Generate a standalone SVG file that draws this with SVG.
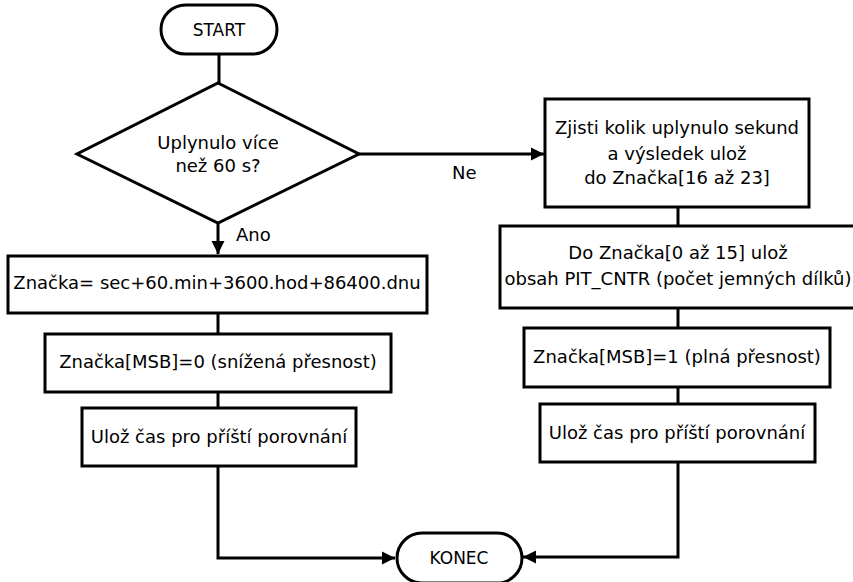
<svg xmlns="http://www.w3.org/2000/svg" width="853" height="582" viewBox="0 0 853 582">
<style>
.s{fill:#fff;stroke:#000;stroke-width:3}
.c{fill:none;stroke:#000;stroke-width:3}
text{font-family:"DejaVu Sans",sans-serif;font-size:18px;fill:#000;text-anchor:middle}
.t{font-size:17px}
.l{text-anchor:start}
</style>
<defs>
<marker id="a" markerWidth="14" markerHeight="14" refX="13" refY="7" orient="auto" markerUnits="userSpaceOnUse">
<path d="M0,0.5 L13,7 L0,13.5 Z" fill="#000"/>
</marker>
</defs>
<g id="connectors">
<path class="c" d="M219,54 V83"/>
<path class="c" d="M218,223 V254" marker-end="url(#a)"/>
<path class="c" d="M359,154 H544" marker-end="url(#a)"/>
<path class="c" d="M218,313 V334"/>
<path class="c" d="M218,392 V408"/>
<path class="c" d="M218,466 V558 H395" marker-end="url(#a)"/>
<path class="c" d="M678,207 V226"/>
<path class="c" d="M678,308 V328"/>
<path class="c" d="M678,387 V404"/>
<path class="c" d="M678,462 V557 H523" marker-end="url(#a)"/>
<text class="l" x="236" y="241">Ano</text>
<text class="l" x="452" y="179">Ne</text>
</g>
<g id="start">
<rect class="s" x="161" y="5" width="116" height="49" rx="24.5"/>
<text class="t" x="219" y="36">START</text>
</g>
<g id="decision">
<path class="s" d="M218,83 L359,154 L218,223 L77,154 Z"/>
<text x="218" y="149">Uplynulo více</text>
<text x="218" y="172">než 60 s?</text>
</g>
<g id="box1">
<rect class="s" x="8" y="256" width="419" height="57"/>
<text x="217" y="289">Značka= sec+60.min+3600.hod+86400.dnu</text>
</g>
<g id="box2">
<rect class="s" x="45" y="334" width="346" height="58"/>
<text x="218" y="368">Značka[MSB]=0 (snížená přesnost)</text>
</g>
<g id="box3">
<rect class="s" x="82" y="408" width="274" height="58"/>
<text x="219" y="443">Ulož čas pro příští porovnání</text>
</g>
<g id="boxR1">
<rect class="s" x="545" y="99" width="264" height="108"/>
<text x="677" y="134">Zjisti kolik uplynulo sekund</text>
<text x="677" y="160">a výsledek ulož</text>
<text x="677" y="184">do Značka[16 až 23]</text>
</g>
<g id="boxR2">
<rect class="s" x="500" y="226" width="370" height="82"/>
<text x="678" y="259">Do Značka[0 až 15] ulož</text>
<text x="678" y="285">obsah PIT_CNTR (počet jemných dílků)</text>
</g>
<g id="boxR3">
<rect class="s" x="524" y="328" width="306" height="59"/>
<text x="677" y="363">Značka[MSB]=1 (plná přesnost)</text>
</g>
<g id="boxR4">
<rect class="s" x="540" y="404" width="275" height="58"/>
<text x="677" y="439">Ulož čas pro příští porovnání</text>
</g>
<g id="konec">
<rect class="s" x="397" y="533" width="125" height="50" rx="25"/>
<text class="t" x="459" y="564">KONEC</text>
</g>
</svg>
